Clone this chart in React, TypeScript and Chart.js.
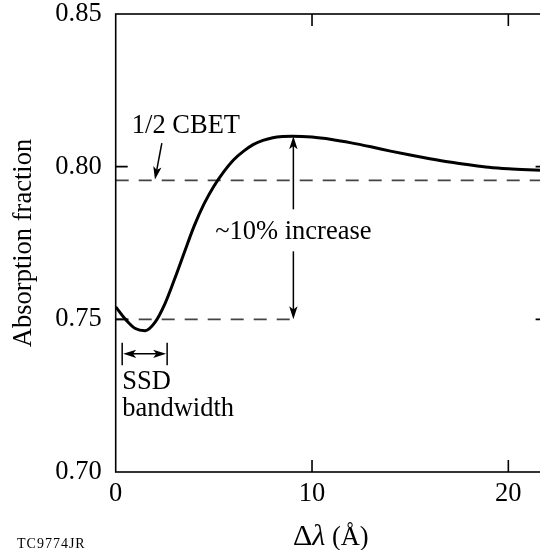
import React, { useEffect, useRef } from "react";
import { Chart, registerables } from "chart.js";

Chart.register(...registerables);

// ---- data ----
const deltaLambda = [0, 0.5, 1, 1.5, 2, 2.5, 3, 3.5, 4, 4.5, 5, 5.5, 6, 6.5, 7, 7.5, 8, 8.5, 9, 10, 11, 12, 13, 14, 15, 16, 17, 18, 19, 20, 21, 22];
const absorption = [0.7541, 0.75, 0.747, 0.7463, 0.749, 0.755, 0.7632, 0.772, 0.7806, 0.7878, 0.7936, 0.7983, 0.8022, 0.805, 0.8072, 0.8086, 0.8095, 0.8099, 0.81, 0.8097, 0.8089, 0.8078, 0.8065, 0.8051, 0.8038, 0.8026, 0.8015, 0.8006, 0.7998, 0.7993, 0.799, 0.7988];
const xTickValues = [0, 10, 20];
const yTickValues = [0.7, 0.75, 0.8, 0.85];
const halfCbetLevel = 0.7955;
const baseLevel = 0.75;
const baseLineEnd = 9.3;
const increaseX = 9.05;
const peakLevel = 0.81;
const ssdStart = 0.33;
const ssdEnd = 2.62;
const X_MIN = 0;
const X_MAX = 22;
const Y_MIN = 0.7;
const Y_MAX = 0.85;

const xTitleDelta = "Δ";
const xTitleLambda = "λ";
const xTitleUnit = " (Å)";
const yTitle = "Absorption fraction";
const increaseLabel = "~10% increase";
const cbetLabel = "1/2 CBET";
const ssdLabel1 = "SSD";
const ssdLabel2 = "bandwidth";
const figId = "TC9774JR";

const SERIF = '"Liberation Serif", "Times New Roman", Times, serif';
const FS = 26.5;
const W = 560;
const H = 550;

function arrowHead(ctx: CanvasRenderingContext2D, x: number, y: number, angle: number) {
  const len = 13;
  const half = 4.2;
  ctx.save();
  ctx.translate(x, y);
  ctx.rotate(angle);
  ctx.beginPath();
  ctx.moveTo(0, 0);
  ctx.lineTo(-len, -half);
  ctx.lineTo(-len * 0.75, 0);
  ctx.lineTo(-len, half);
  ctx.closePath();
  ctx.fill();
  ctx.restore();
}

const decorPlugin = {
  id: "decor",
  afterDatasetsDraw(chart: any) {
    const ctx: CanvasRenderingContext2D = chart.ctx;
    const { left, top, right, bottom } = chart.chartArea;
    const xs = chart.scales.x;
    const ys = chart.scales.y;
    ctx.save();
    ctx.strokeStyle = "#000";
    ctx.fillStyle = "#000";
    ctx.lineWidth = 1.6;
    ctx.strokeRect(left, top, right - left, bottom - top);

    // inward ticks
    ctx.beginPath();
    xTickValues.forEach((t) => {
      if (t > X_MIN && t < X_MAX) {
        const px = xs.getPixelForValue(t);
        ctx.moveTo(px, bottom);
        ctx.lineTo(px, bottom - 12);
        ctx.moveTo(px, top);
        ctx.lineTo(px, top + 12);
      }
    });
    yTickValues.forEach((t) => {
      if (t > Y_MIN + 1e-6 && t < Y_MAX - 1e-6) {
        const py = ys.getPixelForValue(t);
        ctx.moveTo(left, py);
        ctx.lineTo(left + 12, py);
        ctx.moveTo(right, py);
        ctx.lineTo(right - 12, py);
      }
    });
    ctx.stroke();

    // ~10% increase double arrow
    const ax = xs.getPixelForValue(increaseX);
    const aTop = ys.getPixelForValue(peakLevel);
    const aBot = ys.getPixelForValue(baseLevel);
    ctx.lineWidth = 1.5;
    ctx.beginPath();
    ctx.moveTo(ax, aTop + 6);
    ctx.lineTo(ax, aBot - 6);
    ctx.stroke();
    arrowHead(ctx, ax, aTop, -Math.PI / 2);
    arrowHead(ctx, ax, aBot, Math.PI / 2);

    ctx.font = `${FS}px ${SERIF}`;
    ctx.textAlign = "center";
    ctx.textBaseline = "alphabetic";
    const ly = ys.getPixelForValue(0.7762);
    const tw = ctx.measureText(increaseLabel).width;
    ctx.fillStyle = "#fff";
    ctx.fillRect(ax - tw / 2 - 2, ly - 30, tw + 4, 42);
    ctx.fillStyle = "#000";
    ctx.fillText(increaseLabel, ax, ly);

    // 1/2 CBET label with arrow
    ctx.textAlign = "left";
    ctx.fillText(cbetLabel, xs.getPixelForValue(0.82), ys.getPixelForValue(0.8111));
    const cx0 = xs.getPixelForValue(2.35);
    const cy0 = ys.getPixelForValue(0.8077);
    const cx1 = xs.getPixelForValue(2.0);
    const cy1 = ys.getPixelForValue(halfCbetLevel + 0.0003);
    const ang = Math.atan2(cy1 - cy0, cx1 - cx0);
    ctx.beginPath();
    ctx.moveTo(cx0, cy0);
    ctx.lineTo(cx1 - Math.cos(ang) * 6, cy1 - Math.sin(ang) * 6);
    ctx.stroke();
    arrowHead(ctx, cx1, cy1, ang);

    // SSD bandwidth marker
    const s0 = xs.getPixelForValue(ssdStart);
    const s1 = xs.getPixelForValue(ssdEnd);
    const sTop = ys.getPixelForValue(0.7423);
    const sBot = ys.getPixelForValue(0.735);
    const sMid = ys.getPixelForValue(0.7387);
    ctx.beginPath();
    ctx.moveTo(s0, sTop);
    ctx.lineTo(s0, sBot);
    ctx.moveTo(s1, sTop);
    ctx.lineTo(s1, sBot);
    ctx.moveTo(s0 + 6, sMid);
    ctx.lineTo(s1 - 6, sMid);
    ctx.stroke();
    arrowHead(ctx, s0 + 1, sMid, Math.PI);
    arrowHead(ctx, s1 - 1, sMid, 0);
    ctx.fillText(ssdLabel1, s0, ys.getPixelForValue(0.7272));
    ctx.fillText(ssdLabel2, s0, ys.getPixelForValue(0.7183));

    // x-axis title
    const baseY = 545;
    const fDelta = `30px ${SERIF}`;
    const fLambda = `italic 30px ${SERIF}`;
    const fUnit = `${FS}px ${SERIF}`;
    ctx.font = fDelta;
    const wD = ctx.measureText(xTitleDelta).width;
    ctx.font = fLambda;
    const wL = ctx.measureText(xTitleLambda).width;
    let sx = 293;
    ctx.font = fDelta;
    ctx.fillText(xTitleDelta, sx, baseY);
    sx += wD;
    ctx.font = fLambda;
    ctx.fillText(xTitleLambda, sx, baseY);
    sx += wL;
    ctx.font = fUnit;
    ctx.fillText(xTitleUnit, sx, baseY);

    // figure id
    ctx.font = `14px ${SERIF}`;
    (ctx as any).letterSpacing = "1px";
    ctx.fillText(figId, 17, 548);
    (ctx as any).letterSpacing = "0px";
    ctx.restore();
  },
};

export default function App() {
  const ref = useRef<HTMLCanvasElement | null>(null);
  useEffect(() => {
    document.body.style.overflow = "hidden";
    document.documentElement.style.overflow = "hidden";
    const canvas = ref.current;
    if (!canvas) return;
    const points = deltaLambda.map((x, i) => ({ x, y: absorption[i] }));
    const chart = new Chart(canvas, {
      type: "line",
      data: {
        datasets: [
          {
            label: "absorption",
            data: points,
            borderColor: "#000",
            borderWidth: 3,
            pointRadius: 0,
            cubicInterpolationMode: "monotone",
            fill: false,
          },
          {
            label: "half CBET",
            data: [
              { x: X_MIN, y: halfCbetLevel },
              { x: X_MAX, y: halfCbetLevel },
            ],
            borderColor: "#444",
            borderWidth: 1.7,
            borderDash: [13, 10],
            pointRadius: 0,
            tension: 0,
            fill: false,
          },
          {
            label: "base",
            data: [
              { x: X_MIN, y: baseLevel },
              { x: baseLineEnd, y: baseLevel },
            ],
            borderColor: "#444",
            borderWidth: 1.7,
            borderDash: [13, 10],
            pointRadius: 0,
            tension: 0,
            fill: false,
          },
        ],
      },
      options: {
        responsive: false,
        animation: false,
        devicePixelRatio: 1,
        layout: { padding: { top: 14, right: W - 547.6, bottom: 0, left: 0 } },
        plugins: { legend: { display: false }, tooltip: { enabled: false }, title: { display: false } },
        scales: {
          x: {
            type: "linear",
            min: X_MIN,
            max: X_MAX,
            grid: { display: false, drawTicks: false },
            border: { display: false },
            ticks: {
              stepSize: 10,
              includeBounds: false,
              color: "#000",
              padding: 6,
              maxRotation: 0,
              font: { family: SERIF, size: FS, lineHeight: 1.2 },
              callback: (v: any) => (xTickValues.includes(Number(v)) ? String(v) : ""),
            },
            afterFit: (scale: any) => {
              scale.height = H - 472;
              scale.paddingLeft = 0;
              scale.paddingRight = 0;
            },
          },
          y: {
            type: "linear",
            min: Y_MIN,
            max: Y_MAX,
            grid: { display: false, drawTicks: false },
            border: { display: false },
            ticks: {
              stepSize: 0.05,
              color: "#000",
              padding: 14,
              font: { family: SERIF, size: FS, lineHeight: 1.0 },
              callback: (v: any) => Number(v).toFixed(2),
            },
            title: {
              display: true,
              text: yTitle,
              color: "#000",
              font: { family: SERIF, size: FS, lineHeight: 1.2 },
              padding: { top: 8, bottom: 0 },
            },
            afterFit: (scale: any) => {
              scale.width = 115.7;
              scale.paddingTop = 0;
              scale.paddingBottom = 0;
            },
          },
        },
      },
      plugins: [decorPlugin],
    } as any);
    return () => chart.destroy();
  }, []);
  return (
    <div style={{ position: "fixed", left: 0, top: 0, width: W, height: H, background: "#fff" }}>
      <canvas ref={ref} width={W} height={H} style={{ width: W, height: H, display: "block" }} />
    </div>
  );
}
